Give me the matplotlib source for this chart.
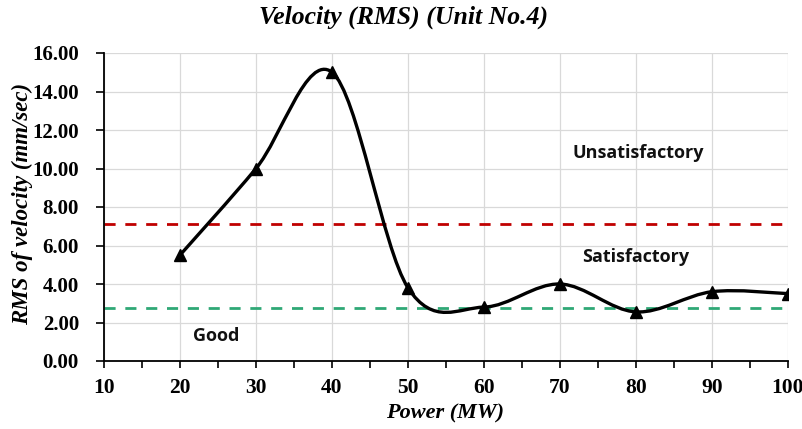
import numpy as np
import matplotlib.pyplot as plt
from matplotlib.path import Path
from matplotlib.patches import PathPatch

# data
power = [20, 30, 40, 50, 60, 70, 80, 90, 100]
rms_velocity = [5.5, 10.0, 15.0, 3.8, 2.8, 4.0, 2.55, 3.6, 3.5]
limit_unsat = 7.1
limit_good = 2.75
zone_labels = ['Unsatisfactory', 'Satisfactory', 'Good']
zone_x = [80.3, 80.0, 24.7]
zone_y = [10.8, 5.4, 1.3]


def smooth_path(x, y):
    # Excel-style smoothed line: cubic bezier through every point
    pts = np.column_stack([x, y]).astype(float)
    n = len(pts)
    verts = [pts[0]]
    codes = [Path.MOVETO]
    for i in range(n - 1):
        p0 = pts[i - 1] if i > 0 else pts[i]
        p1 = pts[i]
        p2 = pts[i + 1]
        p3 = pts[i + 2] if i + 2 < n else pts[i + 1]
        c1 = p1 + (p2 - p0) / 6.0
        c2 = p2 - (p3 - p1) / 6.0
        verts += [c1, c2, p2]
        codes += [Path.CURVE4] * 3
    return Path(verts, codes)


fig = plt.figure(figsize=(8.03, 4.29), dpi=100)
ax = fig.add_axes([104 / 803, 1 - 361 / 429, 684 / 803, 308 / 429])

ax.set_xlim(10, 100)
ax.set_ylim(0, 16)
ax.set_xticks(np.arange(10, 101, 10))
ax.set_xticks(np.arange(15, 100, 10), minor=True)
ax.set_yticks(np.arange(0, 16.1, 2))
ax.set_yticklabels(['%.2f' % v for v in np.arange(0, 16.1, 2)])
ax.grid(True, color='#d9d9d9', linewidth=0.9)
ax.set_axisbelow(True)

for s in ['top', 'right']:
    ax.spines[s].set_visible(False)
ax.spines['left'].set_linewidth(1.3)
ax.spines['bottom'].set_linewidth(1.3)
ax.tick_params(axis='x', which='both', direction='out', length=5, width=1.2, pad=7)
ax.tick_params(axis='y', length=6, width=1.2, pad=12)
for lab in ax.get_xticklabels():
    lab.set_fontfamily('Liberation Serif')
    lab.set_fontweight('bold')
    lab.set_fontsize(15.5)
for lab in ax.get_yticklabels():
    lab.set_fontfamily('Liberation Serif')
    lab.set_fontweight('bold')
    lab.set_fontsize(15)

ax.axhline(limit_unsat, color='#c00000', linestyle=(0, (4, 3.5)), linewidth=2)
ax.axhline(limit_good, color='#2fa876', linestyle=(0, (4, 3.5)), linewidth=2)

patch = PathPatch(smooth_path(power, rms_velocity), facecolor='none',
                  edgecolor='black', linewidth=2.4, zorder=3)
ax.add_patch(patch)
ax.plot(power, rms_velocity, linestyle='none', marker='^', markersize=8.5,
        color='black', zorder=4)

for t, x, y in zip(zone_labels, zone_x, zone_y):
    ax.text(x, y, t, ha='center', va='center', fontsize=13,
            fontweight='bold', family='Open Sans', color='#111111')

fig.text(445 / 803, 1 - 413 / 429, 'Power (MW)', ha='center', va='center',
         fontsize=16, fontweight='bold', style='italic',
         family='Liberation Serif')
fig.text(22 / 803, 1 - 204 / 429, 'RMS of velocity (mm/sec)', ha='center',
         va='center', rotation=90, fontsize=16.5, fontweight='bold',
         style='italic', family='Liberation Serif')
fig.text(404 / 803, 1 - 17 / 429, 'Velocity (RMS) (Unit No.4)', ha='center',
         va='center', fontsize=18.5, fontweight='bold', style='italic',
         family='Liberation Serif')

fig.savefig('out.png', dpi=100)
